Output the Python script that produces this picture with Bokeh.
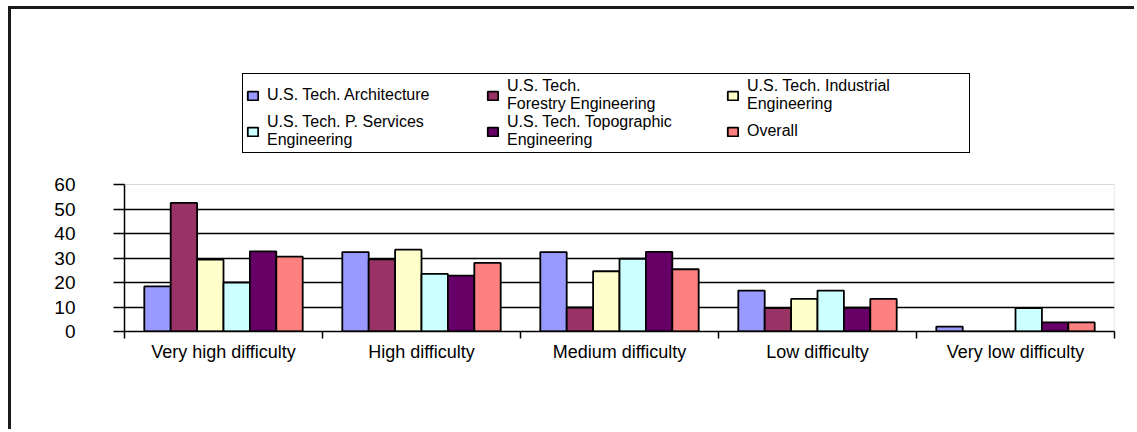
from bokeh.plotting import figure
from bokeh.models import Legend, LegendItem, FixedTicker, Range1d, BoxAnnotation
from bokeh.embed import file_html
from bokeh.resources import INLINE
import numpy as np

categories = ["Very high difficulty", "High difficulty", "Medium difficulty",
              "Low difficulty", "Very low difficulty"]
series_names = ["U.S. Tech. Architecture",
                "U.S. Tech.\nForestry Engineering",
                "U.S. Tech. Industrial\nEngineering",
                "U.S. Tech. P. Services\nEngineering",
                "U.S. Tech. Topographic\nEngineering",
                "Overall"]
architecture = [18.4, 32.4, 32.4, 16.7, 2.0]
forestry = [52.5, 29.4, 9.8, 9.6, 0.0]
industrial = [29.3, 33.4, 24.6, 13.3, 0.0]
p_services = [20.0, 23.5, 29.7, 16.7, 9.6]
topographic = [32.7, 22.8, 32.5, 9.7, 3.7]
overall = [30.6, 28.0, 25.4, 13.3, 3.7]
y_ticks = [0, 10, 20, 30, 40, 50, 60]

series = [architecture, forestry, industrial, p_services, topographic, overall]
colors = ["#9999FF", "#993366", "#FFFFCC", "#CCFFFF", "#660066", "#FF8080"]

FONT = "Liberation Sans"
Y_MAX = max(y_ticks)
# frame extends above the value axis to host the legend (147 px per 60 units)
y_top = Y_MAX * 291 / 147

p = figure(width=1126, height=423, output_backend="svg", toolbar_location=None,
           x_range=Range1d(0, len(categories)), y_range=Range1d(0, y_top),
           min_border_left=113, min_border_right=23, min_border_top=31,
           min_border_bottom=101)
p.margin = (6, 0, 0, 8)
p.styles = {"border-left": "3px solid #1a1a1a", "border-top": "3px solid #1a1a1a"}

p.outline_line_color = None
p.background_fill_color = "white"
p.border_fill_color = "white"

# plot-area border (grey) around the value region only
p.add_layout(BoxAnnotation(left=0, right=len(categories), bottom=0, top=Y_MAX,
                           fill_color=None, line_color="#808080", line_width=1.2,
                           level="underlay"))

n = len(series)
bw = 0.8 / n
centers = np.arange(len(categories)) + 0.5
items = []
for i, (vals, col, name) in enumerate(zip(series, colors, series_names)):
    xs = centers + (i - (n - 1) / 2) * bw
    r = p.vbar(x=xs, top=vals, width=bw, fill_color=col, line_color="black",
               line_width=1.8)
    items.append(LegendItem(label=name, renderers=[r]))

# x axis: labels at category centers, ticks at category boundaries
p.xaxis.ticker = FixedTicker(ticks=list(centers),
                             minor_ticks=list(range(len(categories) + 1)))
p.xaxis.major_label_overrides = {float(c): lab for c, lab in zip(centers, categories)}
p.xaxis.major_tick_out = 0
p.xaxis.major_tick_in = 0
p.xaxis.minor_tick_out = 7
p.xaxis.minor_tick_in = 0
p.xaxis.minor_tick_line_color = "black"
p.xaxis.minor_tick_line_width = 1.5
p.xaxis.axis_line_color = "black"
p.xaxis.axis_line_width = 1.5
p.xaxis.major_label_text_font = FONT
p.xaxis.major_label_text_font_size = "18px"
p.xaxis.major_label_text_color = "black"
p.xaxis.major_label_standoff = 3
p.xgrid.visible = False

p.yaxis.ticker = FixedTicker(ticks=y_ticks)
p.yaxis.bounds = (0, Y_MAX)
p.yaxis.major_tick_out = 11
p.yaxis.major_tick_in = 0
p.yaxis.minor_tick_line_color = None
p.yaxis.major_tick_line_color = "black"
p.yaxis.major_tick_line_width = 1.5
p.yaxis.axis_line_color = "black"
p.yaxis.axis_line_width = 1.5
p.yaxis.major_label_text_font = FONT
p.yaxis.major_label_text_font_size = "19px"
p.yaxis.major_label_text_color = "black"
p.yaxis.major_label_standoff = 38
p.ygrid.ticker = FixedTicker(ticks=y_ticks[1:-1])
p.ygrid.grid_line_color = "black"
p.ygrid.grid_line_width = 1.5

legend = Legend(items=items, ncols=3, orientation="horizontal",
                location=(118, 178))
legend.label_text_font = FONT
legend.label_text_font_size = "16px"
legend.label_text_line_height = 0.8
legend.label_text_color = "black"
legend.glyph_width = 13
legend.glyph_height = 11
legend.label_standoff = 8
legend.label_width = 219
legend.label_height = 26
legend.spacing = 0
legend.padding = 3
legend.margin = 0
legend.border_line_color = "black"
legend.border_line_alpha = 1.0
legend.border_line_width = 1.8
legend.background_fill_color = "white"
legend.background_fill_alpha = 1
p.add_layout(legend, "center")

open("out.html", "w").write(file_html(p, INLINE))
